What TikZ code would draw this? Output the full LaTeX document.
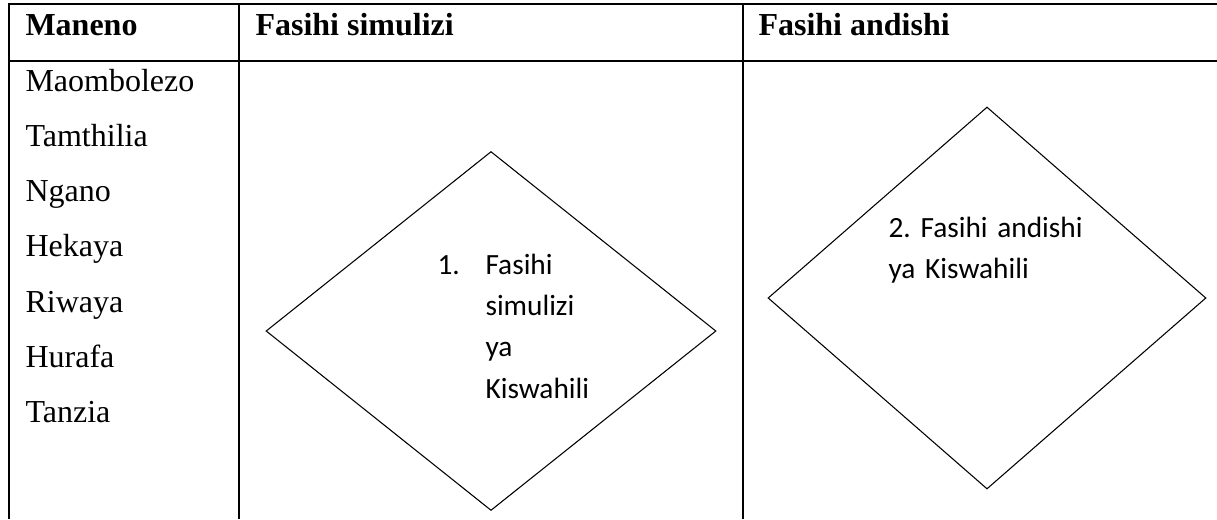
\documentclass[tikz,border=0pt]{standalone}
\usepackage{fontspec}
\setmainfont{Liberation Serif}
\newfontfamily\calibfont{Carlito}
\usetikzlibrary{shapes.geometric}
\usetikzlibrary{positioning}

\tikzset{
  tabline/.style={line width=0.75pt},
  hdr/.style={anchor=base west, inner sep=0, font=\bfseries\fontsize{12}{14}\selectfont},
  word/.style={anchor=base west, inner sep=0, font=\fontsize{12}{14}\selectfont},
  kite/.style={draw, diamond, line width=0.4pt, inner sep=0},
  kitetext/.style={anchor=base west, inner sep=0, align=left, font=\calibfont\frenchspacing\fontsize{11}{15.5}\selectfont}
}

\begin{document}
\begin{tikzpicture}[x=0.375pt, y=-0.375pt]
\useasboundingbox (0,0) rectangle (1217,519);
% table rules
\draw[tabline] (1217,4) -- (9,4) -- (9,519);
\draw[tabline] (9,61) -- (1217,61);
\draw[tabline] (239,4) -- (239,519);
\draw[tabline] (743,4) -- (743,519);

% header row
\node[hdr] (maneno) at (25,35) {Maneno};
\node[hdr] (simhdr) at (255,35) {Fasihi simulizi};
\node[hdr] (andhdr) at (758,35) {Fasihi andishi};

% word list
\foreach \w [count=\i] in {Maombolezo,Tamthilia,Ngano,Hekaya,Riwaya,Hurafa,Tanzia}
  \node[word] (w\i) at (25,{91+55.3*(\i-1)}) {\w};

% diamonds
\node[kite, minimum width=168.75pt, minimum height=134.6pt] (simulizi) at (491,331) {};
\node[kite, minimum width=164.25pt, minimum height=143.25pt] (andishi) at (987,298) {};

\node[kitetext] (num1) at (437,274) {1.};
\node[kitetext, text width=60pt] (txt1) at (485,274) {Fasihi\\simulizi\\ya\\Kiswahili};
\node[kitetext, text width=120pt] (txt2) at (888,237) {2. Fasihi andishi\\ya Kiswahili};
\end{tikzpicture}
\end{document}
